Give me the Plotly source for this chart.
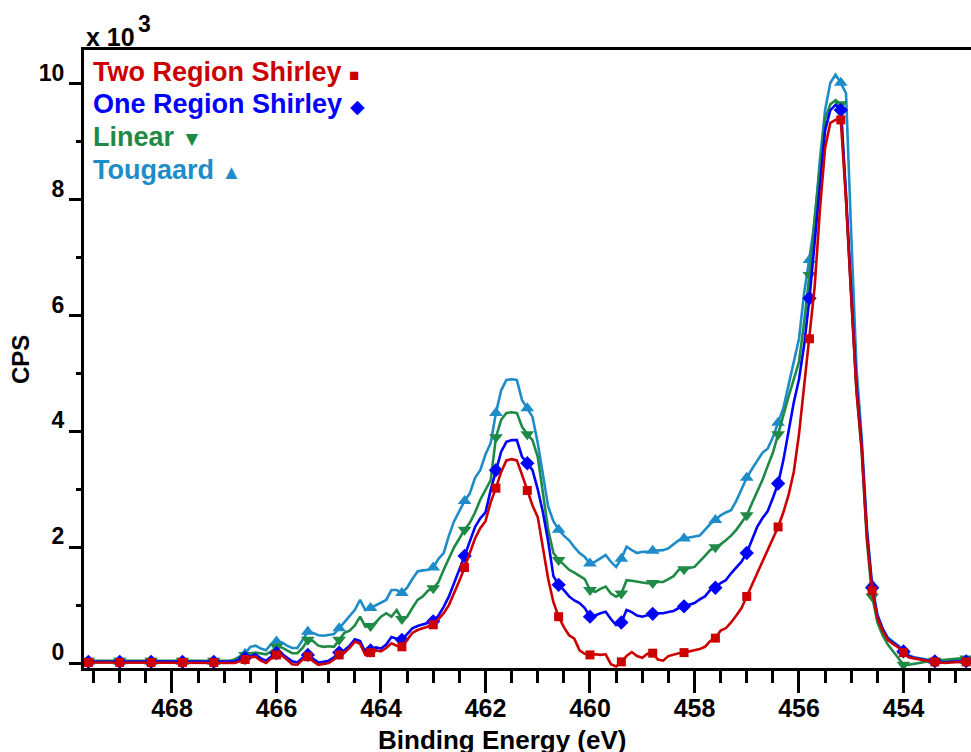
import plotly.graph_objects as go

# ---------------- data (CPS) ----------------
energy_start = 469.6
energy_step = 0.1
n_points = 170
binding_energy = [round(energy_start - energy_step * i, 1) for i in range(n_points)]

two_region_shirley = [
    10, 10, 10, 10, 10, 10, 10, 10, 10, 10,
    10, 10, 10, 10, 10, 10, 10, 10, 10, 10,
    10, 10, 10, 10, 10, 10, 10, 10, 0, 30,
    60, 100, 110, 40, 0, 80, 140, 130, 60, -20,
    -30, 60, 110, 30, -30, -20, 0, 60, 140, 180,
    260, 370, 330, 140, 180, 220, 200, 260, 340, 300,
    280, 400, 520, 570, 600, 620, 660, 760, 860, 1000,
    1200, 1420, 1650, 1900, 2150, 2330, 2450, 2780, 3020, 3300,
    3500, 3520, 3500, 3250, 2980, 2720, 2520, 2000, 1450, 1050,
    800, 620, 480, 420, 220, 160, 140, 150, 140, 150,
    -20, -60, 20, 120, 190, 120, 90, 160, 170, 60,
    40, 120, 150, 170, 180, 200, 220, 240, 280, 380,
    430, 560, 600, 700, 820, 950, 1150, 1350, 1550, 1720,
    1950, 2150, 2350, 2600, 2900, 3300, 3950, 4800, 5600, 6500,
    7820, 8900, 9330, 9380, 9380, 8000, 6300, 4700, 3700, 2180,
    1250, 780, 560, 400, 330, 270, 180, 100, 80, 60,
    50, 30, 20, 10, 0, 10, 20, 20, 20, 20,
]

one_region_shirley = [
    20, 20, 20, 20, 20, 20, 20, 20, 20, 20,
    20, 20, 20, 20, 20, 20, 20, 20, 20, 20,
    20, 20, 20, 20, 20, 20, 20, 20, 30, 60,
    90, 130, 150, 80, 40, 110, 170, 160, 100, 30,
    10, 90, 140, 70, 10, 20, 40, 100, 180, 220,
    300, 410, 380, 190, 220, 270, 250, 320, 450, 420,
    400, 500, 600, 640, 670, 690, 720, 820, 970, 1150,
    1380, 1600, 1850, 2100, 2350, 2500, 2600, 2990, 3330, 3650,
    3820, 3850, 3850, 3560, 3450, 3330, 3000, 2600, 2100, 1500,
    1350, 1260, 1150, 1080, 1035, 950, 800, 820, 860, 885,
    760, 655, 700, 915, 880, 820, 800, 830, 850, 860,
    860, 880, 900, 950, 980, 1000, 1035, 1100, 1150, 1260,
    1300, 1380, 1430, 1550, 1650, 1750, 1900, 2120, 2350, 2500,
    2620, 2850, 3100, 3500, 4000, 4500, 4900, 5500, 6300, 7300,
    8300, 9200, 9550, 9640, 9550, 8100, 6400, 4800, 3750, 2250,
    1300, 820, 590, 420, 350, 290, 200, 120, 90, 70,
    60, 40, 30, 20, 10, 20, 30, 30, 30, 30,
]

linear_bg = [
    40, 40, 40, 40, 40, 40, 40, 40, 40, 40,
    40, 40, 40, 40, 40, 40, 40, 40, 40, 40,
    40, 40, 40, 40, 40, 40, 40, 40, 60, 100,
    140, 170, 180, 170, 150, 200, 280, 270, 220, 170,
    170, 260, 400, 380, 300, 280, 290, 280, 400, 520,
    560, 650, 800, 630, 640, 700, 800, 860, 800, 915,
    760, 800, 950, 1090, 1150, 1250, 1290, 1400, 1610, 1800,
    2000, 2150, 2300, 2420, 2600, 2820, 3000, 3160, 3900, 4200,
    4320, 4330, 4320, 4080, 3950, 3850, 3560, 2940, 2300, 1900,
    1780, 1700, 1610, 1560, 1500, 1450, 1260, 1230, 1280, 1320,
    1200, 1145, 1200, 1430, 1420, 1400, 1390, 1380, 1380, 1400,
    1400, 1450, 1500, 1610, 1620, 1640, 1660, 1750, 1850, 1950,
    2000, 2050, 2120, 2200, 2300, 2420, 2550, 2760, 2950, 3160,
    3400, 3630, 3950, 4300, 4600, 4900, 5200, 5900, 6700, 7700,
    8600, 9400, 9650, 9720, 9650, 8100, 6350, 4700, 3650, 2100,
    1150, 700, 480, 320, 200, 80, -30, -30, -20, 0,
    20, 30, 40, 50, 60, 70, 80, 80, 80, 80,
]

tougaard = [
    20, 20, 20, 20, 20, 20, 20, 20, 20, 20,
    20, 20, 20, 20, 20, 20, 20, 20, 20, 20,
    20, 20, 20, 20, 20, 20, 20, 20, 60, 120,
    160, 280, 300, 250, 220, 330, 370, 360, 300, 260,
    260, 400, 540, 520, 480, 470, 480, 500, 600, 710,
    800, 920, 1090, 915, 950, 1000, 1050, 1090, 1260, 1260,
    1210, 1300, 1450, 1580, 1600, 1610, 1650, 1800, 1900, 2200,
    2450, 2640, 2800, 2930, 3200, 3330, 3600, 3800, 4320, 4710,
    4890, 4900, 4890, 4540, 4400, 4250, 3800, 3280, 2700, 2450,
    2300, 2200, 2120, 2000, 1900, 1830, 1720, 1750, 1800, 1865,
    1750, 1660, 1800, 2010, 1950, 1900, 1920, 1920, 1940, 1950,
    1950, 1980, 2050, 2120, 2150, 2170, 2180, 2200, 2300, 2400,
    2470, 2550, 2600, 2640, 2800, 2990, 3200, 3350, 3500, 3630,
    3700, 3900, 4150, 4400, 4800, 5200, 5600, 6400, 6960, 7600,
    8690, 9550, 10020, 10160, 10020, 9840, 7400, 5100, 3900, 2350,
    1350, 840, 600, 440, 370, 300, 210, 130, 100, 80,
    70, 50, 40, 30, 20, 30, 40, 40, 40, 40,
]

series_names = ["Two Region Shirley", "One Region Shirley", "Linear", "Tougaard"]
series_colors = ["#CC0000", "#0000FF", "#1E8A46", "#1E8CC8"]
series_symbols = ["square", "diamond", "triangle-down", "triangle-up"]
legend_glyphs = ["\u25A0", "\u25C6", "\u25BC", "\u25B2"]
series_values = [two_region_shirley, one_region_shirley, linear_bg, tougaard]
marker_sizes = [9, 11, 12, 12]
marker_every = 6

x_ticks = [468, 466, 464, 462, 460, 458, 456, 454]
y_ticks = [0, 2, 4, 6, 8, 10]

# ---------------- figure ----------------
W, H = 971, 752
ML, MR, MT, MB = 84, 0, 50, 84
PW, PH = W - ML - MR, H - MT - MB


def px(xp):
    return (xp - ML) / PW


def py(yp):
    return (H - MB - yp) / PH


fig = go.Figure()
draw_order = [3, 2, 1, 0]
for k in draw_order:
    ys = [v / 1000 for v in series_values[k]]
    fig.add_trace(go.Scatter(
        x=binding_energy, y=ys, mode="lines", line_shape="linear",
        line=dict(color=series_colors[k], width=2.6),
        name=series_names[k], hoverinfo="skip"))
    fig.add_trace(go.Scatter(
        x=binding_energy[::marker_every], y=ys[::marker_every], mode="markers",
        marker=dict(symbol=series_symbols[k], size=marker_sizes[k],
                    color=series_colors[k], line=dict(width=0)),
        name=series_names[k], showlegend=False))

FONT = "Liberation Sans, Arial, sans-serif"

fig.update_xaxes(
    range=[469.684, 452.708], autorange=False,
    showline=True, linecolor="black", linewidth=3, mirror=True,
    ticks="outside", ticklen=22, tickwidth=3, tickcolor="black",
    tickvals=x_ticks, ticktext=[str(t) for t in x_ticks],
    tickfont=dict(family=FONT, size=25, color="black", weight="bold"),
    ticklabelstandoff=-6,
    minor=dict(ticks="outside", ticklen=12, tickwidth=3, tickcolor="black", dtick=0.5, tick0=0, showgrid=False),
    showgrid=False, zeroline=False,
)
fig.update_yaxes(
    range=[-0.086, 10.587], autorange=False,
    showline=True, linecolor="black", linewidth=3, mirror=False,
    ticks="outside", ticklen=12, tickwidth=3, tickcolor="black",
    tickvals=y_ticks, ticktext=[str(t) for t in y_ticks],
    tickfont=dict(family=FONT, size=23, color="black", weight="bold"),
    ticklabelshift=-11, ticklabelstandoff=0,
    minor=dict(ticks="outside", ticklen=5, tickwidth=3, tickcolor="black", dtick=1, tick0=0, showgrid=False),
    showgrid=False, zeroline=False,
)

annotations = []
legend_y = [72, 104, 137, 170]
glyph_sizes = [17, 19, 21, 20]
for k in range(4):
    annotations.append(dict(
        x=px(91), y=py(legend_y[k]), xref="paper", yref="paper",
        xanchor="left", yanchor="middle", showarrow=False,
        text=f"<b>{series_names[k]}</b> <span style='font-size:{glyph_sizes[k]}px'>{legend_glyphs[k]}</span>",
        font=dict(family=FONT, size=27, color=series_colors[k]),
    ))

annotations.append(dict(x=px(21), y=py(360), xref="paper", yref="paper",
                        text="<b>CPS</b>", textangle=-90, showarrow=False,
                        xanchor="center", yanchor="middle",
                        font=dict(family=FONT, size=24, color="black")))
annotations.append(dict(x=px(502), y=py(740), xref="paper", yref="paper",
                        text="<b>Binding Energy (eV)</b>", showarrow=False,
                        xanchor="center", yanchor="middle",
                        font=dict(family=FONT, size=26, color="black")))
annotations.append(dict(x=px(84), y=py(37), xref="paper", yref="paper",
                        text="<b>x 10</b>", showarrow=False,
                        xanchor="left", yanchor="middle",
                        font=dict(family=FONT, size=25, color="black")))
annotations.append(dict(x=px(136), y=py(24), xref="paper", yref="paper",
                        text="<b>3</b>", showarrow=False,
                        xanchor="left", yanchor="middle",
                        font=dict(family=FONT, size=23, color="black")))

fig.update_layout(
    width=W, height=H,
    margin=dict(l=ML, r=MR, t=MT, b=MB, pad=0),
    paper_bgcolor="white", plot_bgcolor="white",
    showlegend=False,
    annotations=annotations,
)

fig.write_html("out.html")
